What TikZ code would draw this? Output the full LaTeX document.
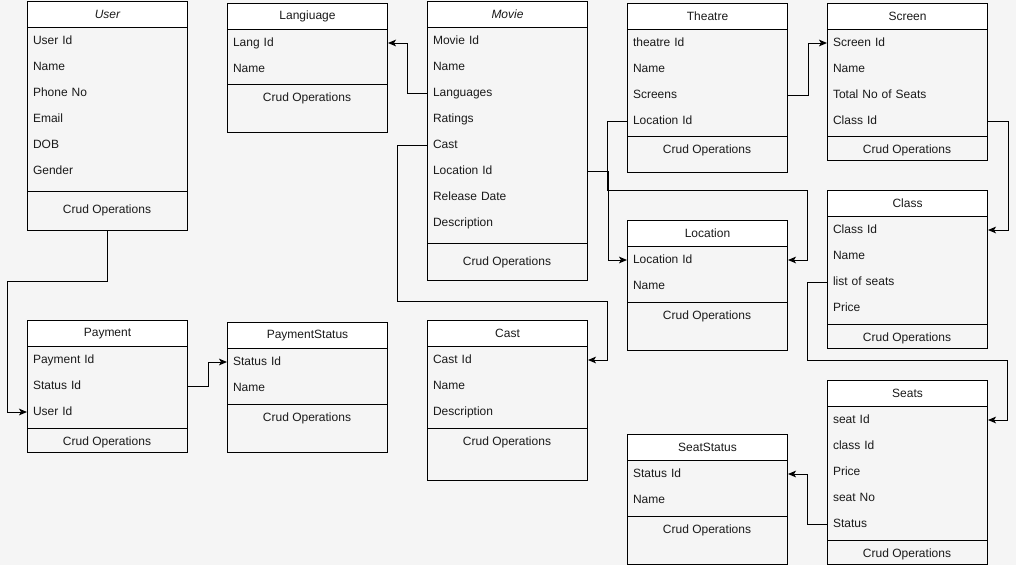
\documentclass[tikz,border=0pt]{standalone}
\usepackage{fontspec}
\setmainfont{Liberation Sans}
\usepackage{tikz}
\usetikzlibrary{arrows.meta, positioning}
\definecolor{canvas}{HTML}{F5F5F5}
\definecolor{ink}{HTML}{1A1A1A}

\begin{document}
\fontsize{9}{11}\selectfont
\begin{tikzpicture}[
    x=0.75pt, y=-0.75pt, line width=0.75pt,
    entity/.style={draw, anchor=north west, minimum width=120pt, minimum height=#1*0.75pt, inner sep=0pt},
    head/.style={draw, fill=white, anchor=north, minimum width=120pt, minimum height=19.5pt, inner sep=0pt, text=ink},
    field/.style={text width=111pt, align=left, minimum height=19.5pt, text height=7pt, text depth=2pt, inner sep=0pt, outer sep=0pt, text=ink},
    ops/.style={inner sep=0pt, text=ink},
    arrow/.style={-{Stealth[length=6pt, width=5pt, inset=1.5pt]}}
]
    \fill[canvas] (0,0) rectangle (1016,565);

    % User
    \node[entity=229] (user) at (27,1) {};
    \node[head, font=\itshape] (userh) at (user.north) {User};
    \node[field, below right=0pt and 4.5pt of userh.south west] (uid) {User Id};
    \node[field, below=0pt of uid] (uname) {Name};
    \node[field, below=0pt of uname] (uphone) {Phone No};
    \node[field, below=0pt of uphone] (uemail) {Email};
    \node[field, below=0pt of uemail] (udob) {DOB};
    \node[field, below=0pt of udob] (ugender) {Gender};
    \draw (27,191) -- ++(160,0);
    \node[ops] (uops) at (107,210) {Crud Operations};

    % Language
    \node[entity=129] (lang) at (227,3) {};
    \node[head] (langh) at (lang.north) {Langiuage};
    \node[field, below right=0pt and 4.5pt of langh.south west] (langid) {Lang Id};
    \node[field, below=0pt of langid] (langname) {Name};
    \draw (227,84) -- ++(160,0);
    \node[ops] (langops) at (307,98) {Crud Operations};

    % Movie
    \node[entity=279] (movie) at (427,1) {};
    \node[head, font=\itshape] (movieh) at (movie.north) {Movie};
    \node[field, below right=0pt and 4.5pt of movieh.south west] (mid) {Movie Id};
    \node[field, below=0pt of mid] (mname) {Name};
    \node[field, below=0pt of mname] (mlang) {Languages};
    \node[field, below=0pt of mlang] (mrate) {Ratings};
    \node[field, below=0pt of mrate] (mcast) {Cast};
    \node[field, below=0pt of mcast] (mloc) {Location Id};
    \node[field, below=0pt of mloc] (mdate) {Release Date};
    \node[field, below=0pt of mdate] (mdesc) {Description};
    \draw (427,243) -- ++(160,0);
    \node[ops] (mops) at (507,262) {Crud Operations};

    % Theatre
    \node[entity=169] (theatre) at (627,3) {};
    \node[head] (theatreh) at (theatre.north) {Theatre};
    \node[field, below right=0pt and 4.5pt of theatreh.south west] (tid) {theatre Id};
    \node[field, below=0pt of tid] (tname) {Name};
    \node[field, below=0pt of tname] (tscr) {Screens};
    \node[field, below=0pt of tscr] (tloc) {Location Id};
    \draw (627,136) -- ++(160,0);
    \node[ops] (tops) at (707,150) {Crud Operations};

    % Screen
    \node[entity=157] (screen) at (827,3) {};
    \node[head] (screenh) at (screen.north) {Screen};
    \node[field, below right=0pt and 4.5pt of screenh.south west] (sid) {Screen Id};
    \node[field, below=0pt of sid] (sname) {Name};
    \node[field, below=0pt of sname] (sseats) {Total No of Seats};
    \node[field, below=0pt of sseats] (scls) {Class Id};
    \draw (827,136) -- ++(160,0);
    \node[ops] (sops) at (907,150) {Crud Operations};

    % Class
    \node[entity=158] (class) at (827,190) {};
    \node[head] (classh) at (class.north) {Class};
    \node[field, below right=0pt and 4.5pt of classh.south west] (clid) {Class Id};
    \node[field, below=0pt of clid] (clname) {Name};
    \node[field, below=0pt of clname] (clseats) {list of seats};
    \node[field, below=0pt of clseats] (clprice) {Price};
    \draw (827,324) -- ++(160,0);
    \node[ops] (clops) at (907,338) {Crud Operations};

    % Location
    \node[entity=130] (location) at (627,220) {};
    \node[head] (locationh) at (location.north) {Location};
    \node[field, below right=0pt and 4.5pt of locationh.south west] (locid) {Location Id};
    \node[field, below=0pt of locid] (locname) {Name};
    \draw (627,302) -- ++(160,0);
    \node[ops] (locops) at (707,316) {Crud Operations};

    % Payment
    \node[entity=132] (payment) at (27,320) {};
    \node[head] (paymenth) at (payment.north) {Payment};
    \node[field, below right=0pt and 4.5pt of paymenth.south west] (pid) {Payment Id};
    \node[field, below=0pt of pid] (pstat) {Status Id};
    \node[field, below=0pt of pstat] (puid) {User Id};
    \draw (27,428) -- ++(160,0);
    \node[ops] (pops) at (107,442) {Crud Operations};

    % Payment status
    \node[entity=130] (paystatus) at (227,322) {};
    \node[head] (paystatush) at (paystatus.north) {PaymentStatus};
    \node[field, below right=0pt and 4.5pt of paystatush.south west] (psid) {Status Id};
    \node[field, below=0pt of psid] (psname) {Name};
    \draw (227,404) -- ++(160,0);
    \node[ops] (psops) at (307,418) {Crud Operations};

    % Cast
    \node[entity=160] (cast) at (427,320) {};
    \node[head] (casth) at (cast.north) {Cast};
    \node[field, below right=0pt and 4.5pt of casth.south west] (castid) {Cast Id};
    \node[field, below=0pt of castid] (castname) {Name};
    \node[field, below=0pt of castname] (castdesc) {Description};
    \draw (427,428) -- ++(160,0);
    \node[ops] (castops) at (507,442) {Crud Operations};

    % Seats
    \node[entity=184] (seats) at (827,380) {};
    \node[head] (seatsh) at (seats.north) {Seats};
    \node[field, below right=0pt and 4.5pt of seatsh.south west] (seid) {seat Id};
    \node[field, below=0pt of seid] (secls) {class Id};
    \node[field, below=0pt of secls] (seprice) {Price};
    \node[field, below=0pt of seprice] (seno) {seat No};
    \node[field, below=0pt of seno] (sestatus) {Status};
    \draw (827,540) -- ++(160,0);
    \node[ops] (seops) at (907,554) {Crud Operations};

    % Seat status
    \node[entity=130] (seatstatus) at (627,434) {};
    \node[head] (seatstatush) at (seatstatus.north) {SeatStatus};
    \node[field, below right=0pt and 4.5pt of seatstatush.south west] (ssid) {Status Id};
    \node[field, below=0pt of ssid] (ssname) {Name};
    \draw (627,516) -- ++(160,0);
    \node[ops] (ssops) at (707,530) {Crud Operations};

    % Links
    \draw[arrow] (user.south) -- ++(0,50) -- ++(-100,0) |- (payment.west |- puid);
    \draw[arrow] (payment.east |- pstat) -- ++(20,0) |- (paystatus.west |- psid);
    \draw[arrow] (movie.west |- mlang) -- ++(-20,0) |- (lang.east |- langid);
    \draw[arrow] (movie.west |- mcast) -- ++(-30,0) -- ++(0,156) -- ++(210,0) |- (cast.east |- castid);
    \draw[arrow] (movie.east |- mloc) -- ++(20,0) |- (location.west |- locid);
    \draw[arrow] (theatre.west |- tloc) -- ++(-20,0) -- ++(0,69) -- ++(200,0) |- (location.east |- locid);
    \draw[arrow] (theatre.east |- tscr) -- ++(20,0) |- (screen.west |- sid);
    \draw[arrow] (screen.east |- scls) -- ++(20,0) |- (class.east |- clid);
    \draw[arrow] (class.west |- clseats) -- ++(-20,0) -- ++(0,78) -- ++(200,0) |- (seats.east |- seid);
    \draw[arrow] (seats.west |- sestatus) -- ++(-20,0) |- (seatstatus.east |- ssid);

\end{tikzpicture}
\end{document}
